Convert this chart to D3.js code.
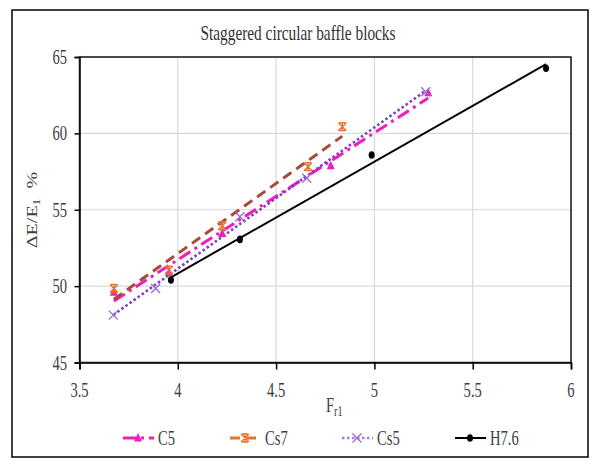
<!DOCTYPE html>
<html><head><meta charset="utf-8">
<script src="https://cdn.jsdelivr.net/npm/d3@7"></script>
<style>body{margin:0;background:#fff}svg{display:block}</style>
</head><body>
<script>
// ---- data ----
const xTicks = [3.5, 4, 4.5, 5, 5.5, 6];
const yTicks = [45, 50, 55, 60, 65];
const seriesNames = ["C5", "Cs7", "Cs5", "H7.6"];
const c5X  = [3.675, 3.955, 4.226, 4.778, 5.274];
const c5Y  = [49.6, 50.9, 53.45, 57.88, 62.66];
const cs7X = [3.675, 3.955, 4.226, 4.662, 4.837];
const cs7Y = [49.85, 51.05, 53.95, 57.82, 60.44];
const cs5X = [3.672, 3.887, 4.316, 4.656, 5.261];
const cs5Y = [48.1, 49.85, 54.54, 57.06, 62.73];
const h76X = [3.965, 4.316, 4.986, 5.873];
const h76Y = [50.4, 53.06, 58.58, 64.26];
const titleText = "Staggered  circular baffle blocks";

// ---- styles ----
const styles = {
  "C5":   {trend:"#f21cbc", mark:"#f21cbc", leg:"#f21cbc", dash:"13,5,3,5", w:3, sym:"tri"},
  "Cs7":  {trend:"#a84a3a", mark:"#e8732c", leg:"#e8732c", dash:"10,6", w:3, sym:"star"},
  "Cs5":  {trend:"#7d3cc4", mark:"#9a68d6", leg:"#a47ee2", dash:"2.5,2.5", w:2.6, sym:"x"},
  "H7.6": {trend:"#000000", mark:"#000000", leg:"#000000", dash:null, w:2, sym:"dot"}
};
const xs = [c5X, cs7X, cs5X, h76X], ys = [c5Y, cs7Y, cs5Y, h76Y];
const series = seriesNames.map((n,i)=>({name:n, pts:xs[i].map((x,j)=>({x, y:ys[i][j]}))}));

const W = 594, H = 458, SX = 0.73, FONT = "'Liberation Serif', 'DejaVu Serif', serif";
const svg = d3.select("body").append("svg").attr("width", W).attr("height", H);
svg.append("rect").attr("width", W).attr("height", H).attr("fill", "#fff");
svg.append("rect").attr("x", 12).attr("y", 10).attr("width", 576).attr("height", 447)
  .attr("fill", "none").attr("stroke", "#000").attr("stroke-width", 1.5);

const m = {l: 79.5, r: 571, t: 57, b: 362.5};
const x = d3.scaleLinear().domain([3.5, 6]).range([m.l, m.r]);
const y = d3.scaleLinear().domain([45, 65]).range([m.b, m.t]);

function txt(px, py, s, anchor, size, fill) {
  const g = svg.append("g").attr("transform", `translate(${px},${py}) scale(${SX},1)`);
  return g.append("text").attr("text-anchor", anchor || "middle")
    .attr("font-family", FONT).attr("font-size", size || 20).attr("fill", fill || "#404040").text(s);
}

// grid
svg.append("g").selectAll("line").data(xTicks.slice(1, -1)).join("line")
  .attr("x1", d=>x(d)).attr("x2", d=>x(d)).attr("y1", m.t).attr("y2", m.b)
  .attr("stroke", "#d9d9d9").attr("stroke-width", 1.2);
svg.append("g").selectAll("line").data(yTicks.slice(1, -1)).join("line")
  .attr("y1", d=>y(d)).attr("y2", d=>y(d)).attr("x1", m.l).attr("x2", m.r)
  .attr("stroke", "#d9d9d9").attr("stroke-width", 1.2);

// axes
const xAxis = svg.append("g").attr("transform", `translate(0,${m.b})`)
  .call(d3.axisBottom(x).tickValues(xTicks).tickSize(7).tickFormat(""));
const yAxis = svg.append("g").attr("transform", `translate(${m.l},0)`)
  .call(d3.axisLeft(y).tickValues(yTicks).tickSize(5).tickFormat(""));
[xAxis, yAxis].forEach(a => { a.select(".domain").attr("stroke", "#000").attr("stroke-width", 1.5);
  a.selectAll(".tick line").attr("stroke", "#000").attr("stroke-width", 1.5); });
svg.append("rect").attr("x", m.l).attr("y", m.t).attr("width", m.r - m.l).attr("height", m.b - m.t)
  .attr("fill", "none").attr("stroke", "#111").attr("stroke-width", 1.5);

xTicks.forEach(v => txt(x(v), 397, v, "middle"));
yTicks.forEach(v => txt(67, y(v) + 7, v, "end"));

// title
txt(298, 40, titleText, "middle", 21, "#333");
// x title
const xt = txt(326, 412, "F", "start", 20);
xt.append("tspan").attr("font-size", 14).attr("dy", 4).text("r1");
// y title
const yg = svg.append("g").attr("transform", `translate(37,210) scale(${SX},1) rotate(-90)`);
const yt = yg.append("text").attr("text-anchor", "middle").attr("font-family", FONT)
  .attr("font-size", 20).attr("fill", "#404040").text("\u0394E/E");
yt.append("tspan").attr("font-size", 14).attr("dy", 4).text("1");
yt.append("tspan").attr("dy", -4).text("\u00a0 %");

// trendlines
function fit(pts) {
  const mx = d3.mean(pts, p=>p.x), my = d3.mean(pts, p=>p.y);
  const b = d3.sum(pts, p=>(p.x-mx)*(p.y-my)) / d3.sum(pts, p=>(p.x-mx)**2);
  const a = my - b*mx;
  const x0 = d3.min(pts, p=>p.x), x1 = d3.max(pts, p=>p.x);
  return [{x:x0, y:a+b*x0}, {x:x1, y:a+b*x1}];
}
const line = d3.line().x(d=>x(d.x)).y(d=>y(d.y));

function marker(g, sym, color, cx, cy) {
  if (sym === "tri") {
    g.append("path").attr("d", `M${cx},${cy-5}L${cx+4},${cy+3.5}L${cx-4},${cy+3.5}Z`).attr("fill", color);
  } else if (sym === "star") {
    const r = 4;
    g.append("path").attr("d",
      `M${cx-r},${cy-r}L${cx+r},${cy+r}M${cx+r},${cy-r}L${cx-r},${cy+r}M${cx},${cy-r}L${cx},${cy+r}M${cx-3},${cy-r}L${cx+3},${cy-r}M${cx-3},${cy+r}L${cx+3},${cy+r}`)
      .attr("stroke", color).attr("stroke-width", 1.4).attr("fill", "none");
  } else if (sym === "x") {
    const r = 4.5;
    g.append("path").attr("d", `M${cx-r},${cy-r}L${cx+r},${cy+r}M${cx+r},${cy-r}L${cx-r},${cy+r}`)
      .attr("stroke", color).attr("stroke-width", 1.3).attr("fill", "none");
  } else {
    g.append("ellipse").attr("cx", cx).attr("cy", cy).attr("rx", 3).attr("ry", 3.8).attr("fill", color);
  }
}

series.forEach(s => {
  const st = styles[s.name];
  svg.append("path").datum(fit(s.pts)).attr("d", line).attr("fill", "none")
    .attr("stroke", st.trend).attr("stroke-width", st.w).attr("stroke-dasharray", st.dash);
});
series.forEach(s => {
  const st = styles[s.name];
  const g = svg.append("g");
  s.pts.forEach(p => marker(g, st.sym, st.mark, x(p.x), y(p.y)));
});

// legend
const legX = [123, 230, 342, 455];
const legY = 438;
series.forEach((s, i) => {
  const st = styles[s.name];
  const g = svg.append("g");
  g.append("line").attr("x1", legX[i]).attr("x2", legX[i] + 31).attr("y1", legY).attr("y2", legY)
    .attr("stroke", st.leg).attr("stroke-width", st.w).attr("stroke-dasharray", st.dash);
  marker(g, st.sym, st.mark, legX[i] + 15, legY);
  txt(legX[i] + 35, legY + 7, s.name, "start", 20);
});
</script>
</body></html>
